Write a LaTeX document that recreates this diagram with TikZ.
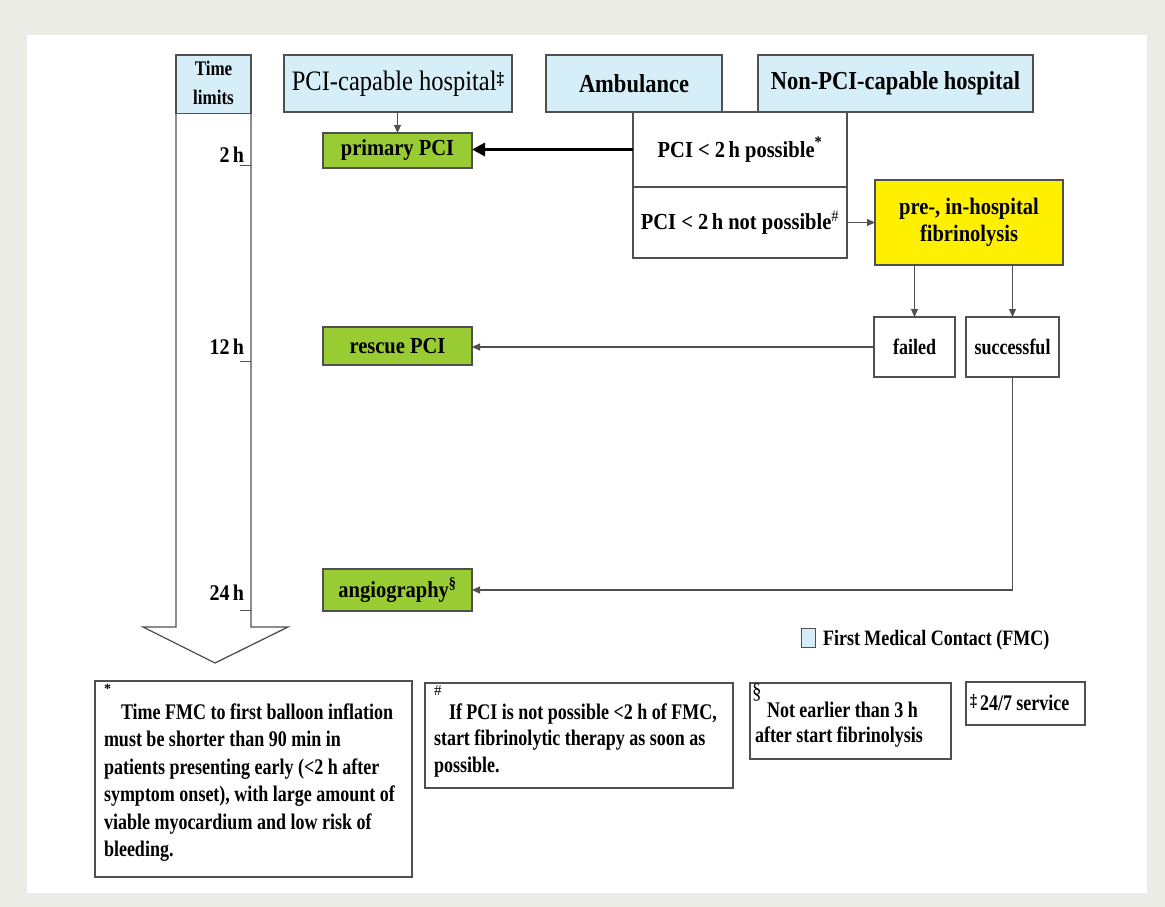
\documentclass[tikz,border=0pt]{standalone}
\usepackage{fontspec}
\usepackage{graphicx}
\setmainfont{Liberation Serif}
\usetikzlibrary{arrows.meta}
\definecolor{fmc}{RGB}{214,238,248}
\definecolor{pcigreen}{RGB}{153,204,51}
\definecolor{fibyellow}{RGB}{255,240,0}
\definecolor{edgegray}{RGB}{80,80,80}
\definecolor{bggray}{RGB}{236,236,231}
\newcommand{\fs}[2]{\fontsize{#1}{#2}\selectfont}
\newcommand{\st}[2][1.2]{\scalebox{1}[#1]{#2}}
\begin{document}
\begin{tikzpicture}[x=1pt,y=-1pt,
  box/.style={draw=edgegray, line width=1.2pt, inner sep=0pt, outer sep=0pt, anchor=north west, align=center},
  fmcbox/.style={box, fill=fmc},
  greenbox/.style={box, fill=pcigreen, font=\fs{20.5}{24}\bfseries},
  plainbox/.style={box, fill=white},
  lbl/.style={inner sep=0pt, outer sep=0pt},
  thin arrow/.style={draw=edgegray, line width=1.1pt, -{Triangle[length=8pt,width=7pt]}},
  thick arrow/.style={draw=black, line width=3.5pt, -{Triangle[length=13pt,width=13pt]}},
  tick/.style={draw=edgegray, line width=1pt},
]
\useasboundingbox (0,0) rectangle (1165,907);
\fill[bggray] (0,0) rectangle (1165,907);
\fill[white] (27,35) rectangle (1147,893);

% time arrow
\draw[edgegray, line width=1.3pt, fill=white] (176,55) -- (176,627) -- (143,627) -- (215,663) -- (288,627) -- (251,627) -- (251,55) -- cycle;
\node[fmcbox, minimum width=75pt, minimum height=57pt, font=\fs{17}{24}\bfseries] (tl) at (176,55) {\st[1.22]{\begin{tabular}{@{}c@{}}Time\\limits\end{tabular}}};
\draw[tick] (240,165) -- (251,165);
\draw[tick] (240,361) -- (251,361);
\draw[tick] (240,610) -- (251,610);
\node[lbl, anchor=base east, font=\fs{20}{24}\bfseries] (t2) at (244,162) {\st[1.12]{2\,h}};
\node[lbl, anchor=base east, font=\fs{20}{24}\bfseries] (t12) at (244,354) {\st[1.12]{12\,h}};
\node[lbl, anchor=base east, font=\fs{20}{24}\bfseries] (t24) at (244,600) {\st[1.12]{24\,h}};

% header boxes
\node[fmcbox, minimum width=228pt, minimum height=57pt, font=\fs{24.5}{28}] (pcih) at (284,55) {\st[1.15]{PCI-capable hospital\raisebox{5pt}{\bfseries\fs{15}{16}‡}}};
\node[fmcbox, minimum width=176pt, minimum height=57pt, font=\fs{22.5}{26}\bfseries] (amb) at (546,55) {\st[1.15]{Ambulance}};
\node[fmcbox, minimum width=275pt, minimum height=57pt, font=\fs{22.5}{26}\bfseries] (npci) at (758,55) {\st[1.15]{Non-PCI-capable hospital}};

% green boxes
\node[greenbox, minimum width=149pt, minimum height=35pt] (prim) at (323,133) {\st[1.12]{primary PCI}};
\node[greenbox, minimum width=149pt, minimum height=38pt] (resc) at (323,327) {\st[1.12]{rescue PCI}};
\node[greenbox, minimum width=149pt, minimum height=42pt] (angio) at (323,569) {\st[1.12]{angiography\textsuperscript{§}}};

% decision boxes
\node[plainbox, minimum width=214pt, minimum height=75pt, font=\fs{20.5}{24}\bfseries] (ppos) at (633,112) {\st[1.12]{PCI < 2\,h possible\raisebox{1pt}{\textsuperscript{*}}}};
\node[plainbox, minimum width=214pt, minimum height=71pt, font=\fs{20.5}{24}\bfseries] (npos) at (633,187) {\st[1.12]{PCI < 2\,h not possible\textsuperscript{\mdseries\#}}};
\node[box, fill=fibyellow, minimum width=188pt, minimum height=85pt, font=\fs{20.5}{23}\bfseries] (fib) at (875,180) {\st[1.15]{\begin{tabular}{@{}c@{}}pre-, in-hospital\\fibrinolysis\end{tabular}}};
\node[plainbox, minimum width=81pt, minimum height=60pt, font=\fs{18}{22}\bfseries] (fail) at (874,317) {\st[1.22]{failed}};
\node[plainbox, minimum width=93pt, minimum height=60pt, font=\fs{18}{22}\bfseries] (succ) at (966,317) {\st[1.22]{successful}};

% connectors
\draw[thin arrow] (pcih.south -| prim.north) -- (prim.north);
\draw[thick arrow] (ppos.west) -- (ppos.west -| prim.east);
\draw[thin arrow] (npos.east) -- (npos.east -| fib.west);
\draw[thin arrow] (fib.south -| fail.north) -- (fail.north);
\draw[thin arrow] (fib.south -| succ.north) -- (succ.north);
\draw[thin arrow] (fail.west) -- (fail.west -| resc.east);
\draw[thin arrow] (succ.south) -- (succ.south |- angio.east) -- (angio.east);

% legend
\node[box, fill=fmc, line width=0.8pt, minimum width=14pt, minimum height=19pt] (leg) at (801,628) {};
\node[lbl, anchor=base west, font=\fs{18}{22}\bfseries] (legt) at (823,645) {\st[1.22]{First Medical Contact (FMC)}};

% footnote boxes
\node[plainbox, minimum width=317pt, minimum height=196pt] (fn1) at (95,681) {};
\node[lbl, anchor=north west, font=\fs{14}{16}\bfseries] (fn1s) at (104,684) {*};
\node[lbl, anchor=base west, font=\fs{18}{22.2}\bfseries] (fn1t) at (104,719) {\st[1.24]{\parbox[t]{305pt}{\raggedright
\hspace*{17pt}Time FMC to first balloon inflation\\
must be shorter than 90 min in\\
patients presenting early (<2 h after\\
symptom onset), with large amount of\\
viable myocardium and low risk of\\
bleeding.}}};

\node[plainbox, minimum width=308pt, minimum height=105pt] (fn2) at (425,683) {};
\node[lbl, anchor=north west, font=\fs{15}{16}] (fn2s) at (434,686) {\#};
\node[lbl, anchor=base west, font=\fs{18}{21.4}\bfseries] (fn2t) at (434,719) {\st[1.24]{\parbox[t]{295pt}{\raggedright
\hspace*{15pt}If PCI is not possible <2 h of FMC,\\
start fibrinolytic therapy as soon as\\
possible.}}};

\node[plainbox, minimum width=201pt, minimum height=76pt] (fn3) at (750,683) {};
\node[lbl, anchor=north west, font=\fs{19}{20}] (fn3s) at (752,684) {\st[1.15]{§}};
\node[lbl, anchor=base west, font=\fs{18}{20.2}\bfseries] (fn3t) at (755,717) {\st[1.24]{\parbox[t]{192pt}{\raggedright
\hspace*{12pt}Not earlier than 3 h\\
after start fibrinolysis}}};

\node[plainbox, minimum width=119pt, minimum height=43pt] (fn4) at (966,682) {};
\node[lbl, anchor=base west, font=\fs{18}{22}\bfseries] (fn4t) at (970,710) {\st[1.24]{\raisebox{3pt}{\fs{14}{16}‡}\,24/7 service}};
\end{tikzpicture}
\end{document}
